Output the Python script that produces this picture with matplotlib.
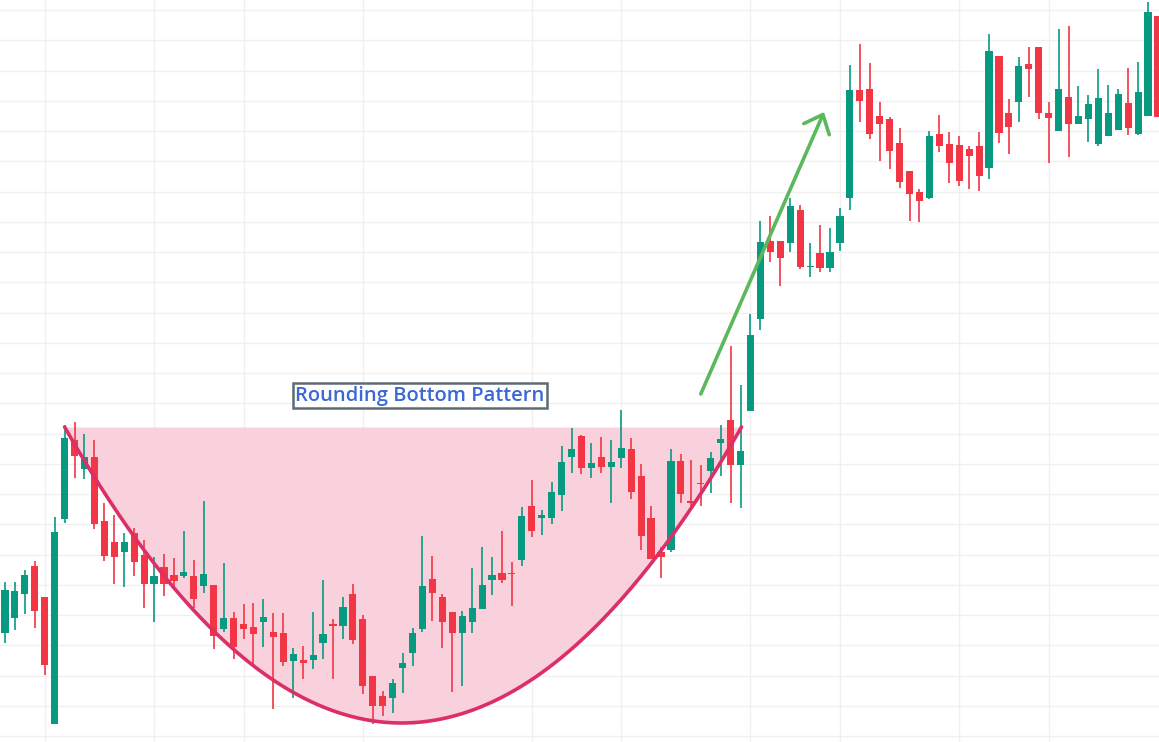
import numpy as np
import matplotlib.pyplot as plt

# candle data (price units, arbitrary scale)
opens = np.array([
    109, 124, 148, 176, 145, 18, 223, 302, 273, 285,
    221, 200, 190, 209, 187, 158, 175, 167, 166, 166,
    156, 157, 113, 124, 118, 115, 120, 110, 109, 81,
    82, 82, 99, 118, 116, 148, 123, 66, 46, 44,
    74, 89, 113, 163, 145, 130, 109, 120, 133, 162,
    169, 169, 182, 236, 224, 224, 247, 285, 306, 274,
    285, 275, 284, 293, 266, 224, 190, 192, 281, 241,
    259, 271, 299, 322, 277, 331, 423, 501, 501, 499,
    532, 475, 489, 474, 499, 544, 652, 653, 626, 623,
    599, 571, 550, 544, 608, 598, 597, 593, 596, 574,
    686, 629, 640, 678, 695, 629, 611, 645, 618, 623,
    598, 606, 612, 639, 608, 626, 726])
closes = np.array([
    152, 151, 167, 131, 77, 210, 304, 286, 285, 218,
    186, 185, 200, 180, 158, 166, 158, 161, 170, 143,
    168, 106, 124, 95, 113, 108, 125, 105, 80, 88,
    79, 87, 108, 116, 135, 102, 56, 36, 36, 59,
    79, 109, 156, 149, 120, 109, 126, 134, 157, 167,
    162, 168, 226, 211, 227, 250, 280, 293, 274, 279,
    275, 280, 294, 250, 206, 183, 185, 281, 248, 239,
    258, 284, 303, 277, 291, 407, 500, 490, 484, 536,
    475, 476, 474, 490, 526, 652, 641, 608, 618, 591,
    560, 548, 541, 606, 596, 579, 561, 586, 566, 691,
    609, 615, 676, 673, 629, 624, 653, 618, 626, 638,
    644, 629, 648, 614, 650, 730, 625])
highs = np.array([
    160, 160, 172, 181, 145, 225, 317, 320, 308, 302,
    239, 227, 209, 214, 202, 185, 188, 184, 211, 182,
    241, 157, 179, 130, 138, 139, 143, 129, 129, 94,
    96, 130, 162, 123, 145, 158, 127, 66, 51, 63,
    89, 114, 206, 186, 148, 130, 131, 174, 195, 185,
    211, 180, 235, 262, 232, 260, 296, 314, 307, 299,
    305, 302, 332, 304, 278, 236, 195, 293, 288, 282,
    277, 290, 317, 396, 357, 428, 521, 526, 501, 544,
    537, 499, 517, 514, 534, 677, 698, 679, 640, 625,
    614, 571, 553, 611, 627, 610, 606, 596, 610, 708,
    686, 643, 685, 695, 695, 640, 713, 716, 656, 647,
    673, 657, 653, 674, 680, 740, 726])
lows = np.array([
    99, 112, 128, 114, 67, 18, 219, 264, 263, 213,
    181, 158, 155, 166, 134, 120, 146, 153, 164, 134,
    149, 93, 110, 83, 103, 76, 95, 33, 76, 44,
    63, 73, 83, 63, 103, 98, 48, 18, 26, 29,
    49, 76, 110, 121, 94, 50, 56, 109, 133, 147,
    159, 136, 176, 205, 207, 218, 231, 269, 268, 264,
    269, 239, 274, 243, 192, 183, 164, 190, 239, 236,
    236, 249, 266, 239, 234, 331, 412, 480, 456, 490,
    473, 465, 470, 470, 491, 532, 620, 603, 581, 573,
    554, 521, 520, 543, 590, 559, 556, 553, 551, 563,
    599, 588, 620, 645, 623, 579, 611, 585, 618, 600,
    596, 606, 612, 607, 607, 626, 625])

# overlay geometry (same units)
pattern_left, pattern_right, pattern_vertex = 6.0, 74.1, 39.9
pattern_top, pattern_bottom = 315, 19
arrow_start, arrow_end = (70.0, 348), (82.4, 630)
label_pos = (41.75, 346.5)
vgrid_idx = [4, 15, 24, 36, 53, 62, 75, 84, 96, 105]
hgrid = 732 - 30.25 * np.arange(25)

GREEN = '#089981'
RED = '#f23645'

fig = plt.figure(figsize=(11.59, 7.42), dpi=100)
ax = fig.add_axes([0, 0, 1, 1])
ax.set_xlim(-0.5, 116.1)
ax.set_ylim(0, 742)
ax.axis('off')

# grid
for gx in vgrid_idx:
    ax.axvline(gx, color='#f0f0f0', lw=1, zorder=0)
for gy in hgrid:
    ax.axhline(gy, color='#f0f0f0', lw=1, zorder=0)

# rounding bottom shape (parabola-like, each side scaled to its own width)
xs = np.linspace(pattern_left, pattern_right, 300)
side = np.where(xs < pattern_vertex, pattern_vertex - pattern_left, pattern_right - pattern_vertex)
curve = pattern_bottom + (pattern_top - pattern_bottom) * ((xs - pattern_vertex) / side) ** 2
ax.fill_between(xs, curve, pattern_top, color='#f9d1dd', lw=0, zorder=1)
ax.plot(xs, curve, color='#dc2f68', lw=2.6, zorder=3, solid_capstyle='round')

# candles
idx = np.arange(len(opens))
colors = np.where(closes >= opens, GREEN, RED)
ax.vlines(idx, lows, highs, colors=colors, lw=1.2, zorder=2)
body_bottom = np.minimum(opens, closes)
body_height = np.maximum(np.abs(closes - opens), 1.5)
ax.bar(idx, body_height, bottom=body_bottom, width=0.72, color=colors, lw=0, zorder=2)

# breakout arrow
ax.annotate('', xy=arrow_end, xytext=arrow_start,
            arrowprops=dict(arrowstyle='->,head_length=1.15,head_width=1.0',
                            color='#5cb85c', lw=2.6, shrinkA=0, shrinkB=0),
            zorder=4)

ax.text(*label_pos, 'Rounding Bottom Pattern', ha='center', va='center',
        fontsize=14.5, family='Open Sans', weight='semibold', color='#3b68d6', zorder=5,
        bbox=dict(boxstyle='square,pad=0.12', fc='white', ec='#5f6b73', lw=1.8))

fig.savefig('out.png', dpi=100)
